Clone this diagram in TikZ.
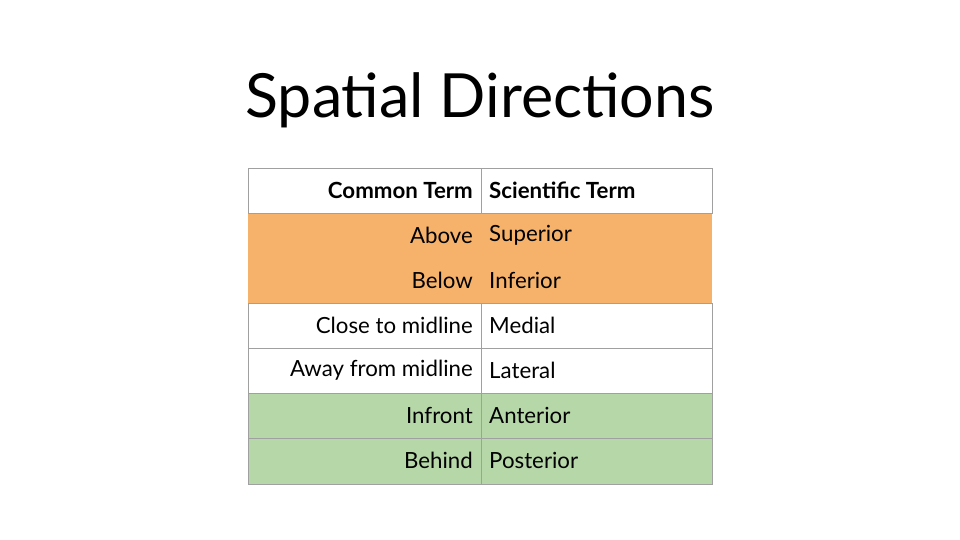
\documentclass[tikz,border=0pt]{standalone}
\usepackage{fontspec}
\setmainfont{Lato}
\definecolor{org}{HTML}{F6B26B}
\definecolor{grn}{HTML}{B6D7A8}
\definecolor{gline}{HTML}{A0A0A0}
\begin{document}
\begin{tikzpicture}[x=0.03cm,y=-0.03cm,
  lt/.style={anchor=east,inner sep=0pt,font=\fontsize{19}{22}\selectfont},
  rt/.style={anchor=west,inner sep=0pt,font=\fontsize{19}{22}\selectfont},
  grid/.style={draw=gline,line width=0.6pt}]
\useasboundingbox (0,0) rectangle (960,540);
\node[inner sep=0pt,font=\fontsize{52}{60}\selectfont] (title) at (480,100) {Spatial Directions};
\fill[org] (248,213) rectangle (712,303);
\fill[grn] (248,393) rectangle (712,484);
% white rows grid
\draw[grid] (248,168) rectangle (712,213);
\draw[grid] (481,168) -- (481,213);
\draw[grid] (248,303) rectangle (712,393);
\draw[grid] (248,348) -- (712,348);
\draw[grid] (481,303) -- (481,393);
\draw[grid] (248,393) rectangle (712,484);
\draw[grid] (248,438.5) -- (712,438.5);
\draw[grid] (481,393) -- (481,484);
\node[lt,font=\fontsize{19}{22}\selectfont\bfseries] (h1) at (473,190) {Common Term};
\node[rt,font=\fontsize{19}{22}\selectfont\bfseries] (h2) at (489,190) {Scientific Term};
\node[lt] (a1) at (473,235) {Above};
\node[rt] (a2) at (489,235) {Superior};
\node[lt] (b1) at (473,280) {Below};
\node[rt] (b2) at (489,280) {Inferior};
\node[lt] (c1) at (473,325) {Close to midline};
\node[rt] (c2) at (489,325) {Medial};
\node[lt] (d1) at (473,370) {Away from midline};
\node[rt] (d2) at (489,370) {Lateral};
\node[lt] (e1) at (473,415) {Infront};
\node[rt] (e2) at (489,415) {Anterior};
\node[lt] (f1) at (473,460) {Behind};
\node[rt] (f2) at (489,460) {Posterior};
\end{tikzpicture}
\end{document}
